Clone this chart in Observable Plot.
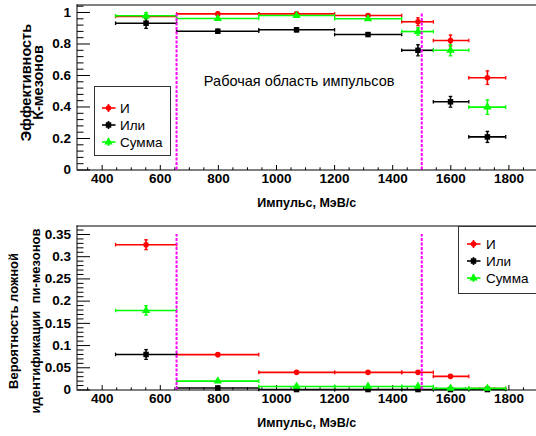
<!DOCTYPE html>
<html><head><meta charset="utf-8">
<script src="https://cdn.jsdelivr.net/npm/d3@7"></script>
<script src="https://cdn.jsdelivr.net/npm/@observablehq/plot@0.6"></script>
<style>
body{margin:0;background:#fff;font-family:"Liberation Sans",Arial,sans-serif;}
#wrap{position:relative;width:536px;height:436px;overflow:hidden;background:#fff;}
#wrap svg{display:block}
.legend{position:absolute;background:#fff;border:1px solid #333;box-sizing:border-box;}
.legend .row{position:absolute;display:flex;align-items:center;font-size:13.5px;color:#000;white-space:nowrap;}
.legend .row svg{display:block;margin-right:2px}
</style></head><body><div id="wrap"></div><script>
// ---- data ----
const binLow    = [446, 656, 939, 1200, 1431, 1540, 1662];
const binHigh   = [656, 939, 1200, 1431, 1540, 1662, 1789];
const binCenter = [551, 798, 1069, 1315, 1487, 1599, 1726];

const seriesNames   = ["И", "Или", "Сумма"];
const seriesColors  = ["#ff0000", "#000000", "#00ff00"];
const seriesSymbols = ["circle", "square", "triangle"];

// Efficiency of K-mesons
const effAnd    = [0.975, 0.991, 0.991, 0.981, 0.941, 0.822, 0.586];
const effAndErr = [0.006, 0.004, 0.004, 0.005, 0.025, 0.035, 0.043];
const effOr     = [0.932, 0.881, 0.890, 0.860, 0.760, 0.433, 0.210];
const effOrErr  = [0.033, 0.012, 0.012, 0.010, 0.035, 0.034, 0.035];
const effSum    = [0.979, 0.962, 0.981, 0.960, 0.879, 0.760, 0.399];
const effSumErr = [0.020, 0.008, 0.006, 0.008, 0.023, 0.035, 0.046];

// Probability of false pion identification
const fakeAnd    = [0.327, 0.0796, 0.0397, 0.0397, 0.0397, 0.0307, 0.003];
const fakeAndErr = [0.011, 0.003, 0.002, 0.002, 0.002, 0.003, 0.002];
const fakeOr     = [0.080, 0.0045, 0.001, 0.001, 0.001, 0.001, 0.001];
const fakeOrErr  = [0.011, 0.002, 0.001, 0.001, 0.001, 0.001, 0.001];
const fakeSum    = [0.179, 0.020, 0.008, 0.008, 0.008, 0.0036, 0.0036];
const fakeSumErr = [0.0105, 0.003, 0.002, 0.002, 0.002, 0.002, 0.002];

const workRegion = [656, 1500];
const workLabel  = "Рабочая область импульсов";
const xTitle     = "Импульс, МэВ/с";

const xTicks     = [400, 600, 800, 1000, 1200, 1400, 1600, 1800];
const yTicksTop  = [0, 0.2, 0.4, 0.6, 0.8, 1];
const yTicksBot  = [0, 0.05, 0.1, 0.15, 0.2, 0.25, 0.3, 0.35];

// ---- helpers ----
const W = 536, H = 218;
const xDomain = [313.3, 1895];
const line = (x1, y1, x2, y2) => ({draw(ctx) { ctx.moveTo(x1, y1); ctx.lineTo(x2, y2); }});
const fmt = d => String(+d.toFixed(2));

function rowsFor(vals, errs) {
  return vals.map((v, i) => ({lo: binLow[i], hi: binHigh[i], c: binCenter[i], y: v, e: errs[i]}));
}

function panel({series, yDomain, yMajor, yMinorStep, marginTop, marginBottom, vTop, titleLines, titleDy, titleFont, annotation}) {
  const xMinor = d3.range(350, 1900, 50).filter(v => !xTicks.includes(v));
  const yMinor = d3.range(0, yDomain[1], yMinorStep).map(v => +v.toFixed(4)).filter(v => !yMajor.some(m => Math.abs(m - v) < 1e-6));
  const marks = [];
  // frame (left, bottom, top)
  marks.push(Plot.ruleY([yDomain[0]], {stroke: "#000", strokeWidth: 1}));
  marks.push(Plot.ruleY([yDomain[1]], {stroke: "#000", strokeWidth: 1}));
  marks.push(Plot.ruleX([xDomain[0]], {stroke: "#000", strokeWidth: 1}));
  // ticks (inside)
  marks.push(Plot.dot(xTicks, {x: d => d, frameAnchor: "bottom", symbol: line(0, 0, 0, -5), stroke: "#000", fill: "none", strokeWidth: 1}));
  marks.push(Plot.dot(xMinor, {x: d => d, frameAnchor: "bottom", symbol: line(0, 0, 0, -2.7), stroke: "#000", fill: "none", strokeWidth: 1}));
  marks.push(Plot.dot(yMajor, {y: d => d, frameAnchor: "left", symbol: line(0, 0, 13, 0), stroke: "#000", fill: "none", strokeWidth: 1}));
  marks.push(Plot.dot(yMinor, {y: d => d, frameAnchor: "left", symbol: line(0, 0, 6.5, 0), stroke: "#000", fill: "none", strokeWidth: 1}));
  // axis labels
  marks.push(Plot.axisX({ticks: xTicks, tickSize: 0, tickPadding: 3.5, label: null, tickFormat: d => String(d)}));
  marks.push(Plot.axisY({ticks: yMajor, tickSize: 0, tickPadding: 6, label: null, tickFormat: fmt}));
  // data
  series.forEach((s, k) => {
    const rows = rowsFor(s.vals, s.errs);
    const col = seriesColors[k];
    marks.push(Plot.ruleY(rows, {y: "y", x1: "lo", x2: "hi", stroke: col, strokeWidth: 1.6}));
    marks.push(Plot.dot(rows, {x: "lo", y: "y", symbol: line(0, -1.8, 0, 1.8), stroke: col, fill: "none", strokeWidth: 1.3}));
    marks.push(Plot.dot(rows, {x: "hi", y: "y", symbol: line(0, -1.8, 0, 1.8), stroke: col, fill: "none", strokeWidth: 1.3}));
    marks.push(Plot.ruleX(rows, {x: "c", y1: d => d.y - d.e, y2: d => d.y + d.e, stroke: col, strokeWidth: 1.6}));
    marks.push(Plot.dot(rows, {x: "c", y: d => d.y + d.e, symbol: line(-1.8, 0, 1.8, 0), stroke: col, fill: "none", strokeWidth: 1.3}));
    marks.push(Plot.dot(rows, {x: "c", y: d => d.y - d.e, symbol: line(-1.8, 0, 1.8, 0), stroke: col, fill: "none", strokeWidth: 1.3}));
    marks.push(Plot.dot(rows, {x: "c", y: "y", symbol: seriesSymbols[k], r: k === 0 ? 2.8 : 3.1, fill: col, stroke: "none"}));
  });
  // working region boundaries
  marks.push(Plot.ruleX(workRegion, {x: d => d, y1: 0, y2: vTop, stroke: "#ff00ff", strokeWidth: 2, strokeDasharray: "3,1.5"}));
  if (annotation) marks.push(Plot.text([annotation], {x: d3.mean(workRegion), y: annotation.y, text: d => d.text, fontSize: 14.5, fontWeight: "normal", fill: "#000"}));
  // axis titles
  marks.push(Plot.text([xTitle], {frameAnchor: "bottom", lineAnchor: "middle", textAnchor: "middle", dy: 33, text: d => d, fontSize: 12.5, fontWeight: "bold"}));
  titleLines.forEach(t => marks.push(Plot.text([t.text], {frameAnchor: "left", textAnchor: "middle", lineAnchor: "middle", dx: t.x - 76.5, dy: titleDy, rotate: -90, text: d => d, fontSize: titleFont, fontWeight: "bold"})));
  return Plot.plot({
    width: W, height: H,
    marginLeft: 76.5, marginRight: 0, marginTop, marginBottom,
    x: {domain: xDomain},
    y: {domain: yDomain},
    style: {fontFamily: "'Liberation Sans', Arial, sans-serif", fontSize: "13.5px", fontWeight: "bold", background: "#fff", color: "#000", overflow: "visible"},
    marks
  });
}

const wrap = document.getElementById("wrap");
wrap.appendChild(panel({
  series: [{vals: effAnd, errs: effAndErr}, {vals: effOr, errs: effOrErr}, {vals: effSum, errs: effSumErr}],
  yDomain: [0, 1.0476], yMajor: yTicksTop, yMinorStep: 0.04,
  marginTop: 4.5, marginBottom: 48.5, vTop: 1,
  titleLines: [{text: "Эффективность", x: 25.5}, {text: "К-мезонов", x: 38}],
  titleDy: -5, titleFont: 14.5,
  annotation: {text: workLabel, y: 0.56}
}));
wrap.appendChild(panel({
  series: [{vals: fakeAnd, errs: fakeAndErr}, {vals: fakeOr, errs: fakeOrErr}, {vals: fakeSum, errs: fakeSumErr}],
  yDomain: [0, 0.3691], yMajor: yTicksBot, yMinorStep: 0.01,
  marginTop: 7.5, marginBottom: 46.5, vTop: 0.35,
  titleLines: [{text: "Вероятность ложной", x: 13.5}, {text: "идентификации  пи-мезонов", x: 35}],
  titleDy: 13, titleFont: 13
}));

// legends
function legend(left, top, width, height, rowYs, symX, textX) {
  const box = document.createElement("div");
  box.className = "legend";
  Object.assign(box.style, {left: left + "px", top: top + "px", width: width + "px", height: height + "px"});
  seriesNames.forEach((name, k) => {
    const row = document.createElement("div");
    row.className = "row";
    row.style.left = symX + "px";
    row.style.top = (rowYs[k] - 9) + "px";
    row.style.height = "18px";
    const s = d3.create("svg").attr("width", textX - symX).attr("height", 18);
    const cx = 6.5;
    s.append("line").attr("x1", 0).attr("x2", 13.5).attr("y1", 9).attr("y2", 9).attr("stroke", seriesColors[k]).attr("stroke-width", 1.6);
    s.append("line").attr("x1", cx).attr("x2", cx).attr("y1", 5).attr("y2", 13).attr("stroke", seriesColors[k]).attr("stroke-width", 1.6);
    const size = (k === 0 ? 2.8 : 3.1) ** 2 * Math.PI;
    const symType = [d3.symbolCircle, d3.symbolSquare, d3.symbolTriangle][k];
    s.append("path").attr("d", d3.symbol(symType, size)()).attr("transform", `translate(${cx},9)`).attr("fill", seriesColors[k]);
    row.appendChild(s.node());
    const t = document.createElement("span");
    t.textContent = name;
    row.appendChild(t);
    box.appendChild(row);
  });
  wrap.appendChild(box);
}
legend(94, 86, 77, 70, [21, 38, 55], 7, 23);
legend(458, 226, 90, 68, [17, 34, 51], 8, 25);
</script></body></html>
